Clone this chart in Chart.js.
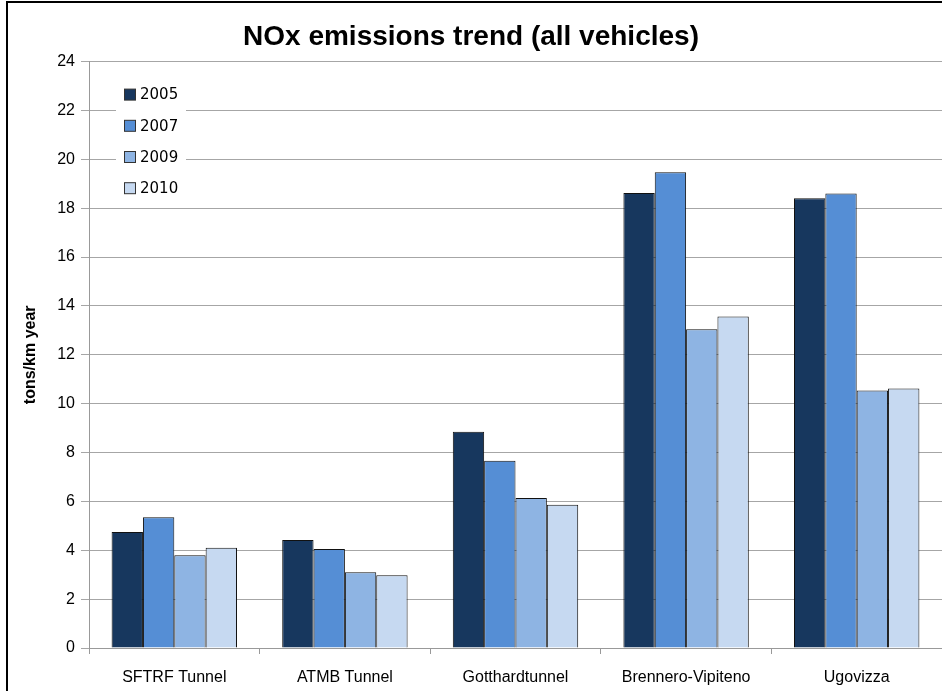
<!DOCTYPE html>
<html>
<head>
<meta charset="utf-8">
<script src="https://cdn.jsdelivr.net/npm/chart.js@4.4.1/dist/chart.umd.min.js"></script>
<style>
  html, body { margin: 0; padding: 0; background: #fff; }
  #wrap { position: relative; width: 942px; height: 691px; }
  #frame { position: absolute; left: 6px; top: 1px; right: 0; bottom: 0;
           border-top: 2px solid #000; border-left: 2px solid #000; pointer-events: none; }
</style>
</head>
<body>
<div id="wrap">
  <canvas id="myChart" width="942" height="691"></canvas>
  <div id="frame"></div>
</div>
<script>
// dados
const categories = ['SFTRF Tunnel', 'ATMB Tunnel', 'Gotthardtunnel', 'Brennero-Vipiteno', 'Ugovizza'];
const years = ['2005', '2007', '2009', '2010'];
const values2005 = [4.75, 4.42, 8.85, 18.62, 18.41];
const values2007 = [5.35, 4.05, 7.66, 19.47, 18.60];
const values2009 = [3.80, 3.10, 6.14, 13.05, 10.54];
const values2010 = [4.10, 2.98, 5.86, 13.57, 10.62];
const yTicks = [0, 2, 4, 6, 8, 10, 12, 14, 16, 18, 20, 22, 24];

const colors = ['#17375E', '#558ED5', '#8EB4E3', '#C6D9F1'];
const narrow = '"Liberation Sans Narrow", "Liberation Sans", Arial, sans-serif';

// legenda dentro da área do gráfico, canto superior esquerdo
const insideLegend = {
  id: 'insideLegend',
  afterDatasetsDraw(chart) {
    const ctx = chart.ctx;
    const x0 = chart.chartArea.left + 35;
    const y0 = chart.chartArea.top + 33;
    ctx.save();
    ctx.fillStyle = '#fff';
    ctx.fillRect(x0 - 8, y0 - 16, 70, 112);
    chart.data.datasets.forEach((ds, i) => {
      const y = y0 + i * 31.2;
      ctx.fillStyle = ds.backgroundColor;
      ctx.fillRect(x0 + 0.5, y - 5.5, 11, 11);
      ctx.strokeStyle = '#333';
      ctx.lineWidth = 1;
      ctx.strokeRect(x0 + 0.5, y - 5.5, 11, 11);
      ctx.fillStyle = '#000';
      ctx.font = '15px "DejaVu Sans", Verdana, sans-serif';
      ctx.textBaseline = 'middle';
      ctx.fillText(ds.label, x0 + 16, y + 1);
    });
    ctx.restore();
  }
};

const ctx = document.getElementById('myChart').getContext('2d');
new Chart(ctx, {
  type: 'bar',
  data: {
    labels: categories,
    datasets: [
      { label: years[0], data: values2005, backgroundColor: colors[0] },
      { label: years[1], data: values2007, backgroundColor: colors[1] },
      { label: years[2], data: values2009, backgroundColor: colors[2] },
      { label: years[3], data: values2010, backgroundColor: colors[3] },
    ].map(d => ({ ...d, borderColor: '#111', borderWidth: 1, barPercentage: 1, categoryPercentage: 0.735 })),
  },
  options: {
    responsive: false,
    animation: false,
    layout: { padding: { left: 0, right: 0, top: 0, bottom: 0 } },
    plugins: {
      legend: { display: false },
      tooltip: { enabled: false },
      title: {
        display: true,
        text: 'NOx emissions trend (all vehicles)',
        color: '#000',
        font: { family: narrow, size: 28, weight: 'bold' },
        padding: { top: 20, bottom: 8 },
      },
    },
    scales: {
      x: {
        grid: { offset: true, drawOnChartArea: false, tickLength: 6, color: '#999' },
        border: { color: '#999' },
        ticks: { color: '#000', font: { family: narrow, size: 16 }, padding: 14, maxRotation: 0 },
        afterFit(scale) { scale.height = 43; },
      },
      y: {
        min: 0,
        max: 24,
        afterBuildTicks(scale) { scale.ticks = yTicks.map(v => ({ value: v })); },
        grid: { color: '#A6A6A6', tickLength: 8 },
        border: { color: '#999' },
        ticks: { color: '#000', font: { family: narrow, size: 16 }, padding: 6 },
        title: {
          display: true,
          text: 'tons/km year',
          color: '#000',
          font: { family: narrow, size: 16, weight: 'bold' },
          padding: { top: 21, bottom: 0 },
        },
        afterFit(scale) { scale.width = 89; },
      },
    },
  },
  plugins: [insideLegend],
});
</script>
</body>
</html>
